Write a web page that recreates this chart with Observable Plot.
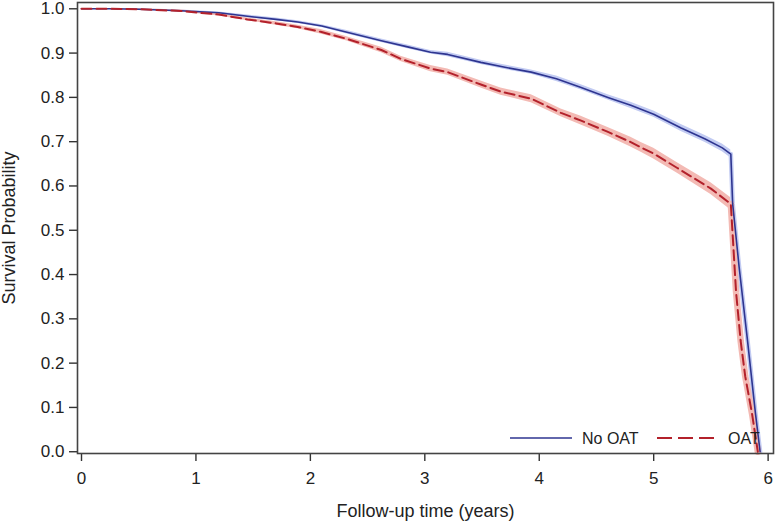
<!DOCTYPE html>
<html>
<head>
<meta charset="utf-8">
<script src="https://cdn.jsdelivr.net/npm/d3@7"></script>
<script src="https://cdn.jsdelivr.net/npm/@observablehq/plot@0.6"></script>
<style>
  html, body { margin: 0; padding: 0; background: #fff; }
  #wrap { position: relative; width: 776px; height: 521px; font-family: "Liberation Sans", Arial, sans-serif; }
  #legend { position: absolute; left: 0; top: 0; pointer-events: none; }
  g[aria-label="x-axis tick label"], g[aria-label="y-axis tick label"] { font-size: 17px !important; fill: #222; }
  g[aria-label="x-axis label"], g[aria-label="y-axis label"] { font-size: 18px !important; fill: #222; }
  g[aria-label="x-axis tick"], g[aria-label="y-axis tick"] { stroke: #333; stroke-width: 1.4px; }
</style>
</head>
<body>
<div id="wrap"></div>
<script>
// ---- Data ----
const seriesNames = ["No OAT", "OAT"];

const timeNoOAT = [0, 0.25, 0.5, 0.87, 1.2, 1.45, 1.7, 1.89, 2.1, 2.32, 2.62, 2.85, 3.05, 3.2, 3.49, 3.7, 3.93, 4.15, 4.36, 4.6, 4.8, 5.0, 5.24, 5.45, 5.6, 5.674, 5.69, 5.747, 5.82, 5.89, 5.93];
const survNoOAT = [1.0, 1.0, 0.999, 0.9955, 0.991, 0.983, 0.976, 0.970, 0.961, 0.947, 0.928, 0.914, 0.902, 0.897, 0.879, 0.868, 0.857, 0.842, 0.823, 0.800, 0.782, 0.762, 0.731, 0.706, 0.686, 0.672, 0.56, 0.416, 0.251, 0.085, 0.0];
const ciNoOAT   = [0, 0, 0.001, 0.002, 0.002, 0.003, 0.003, 0.003, 0.003, 0.004, 0.004, 0.004, 0.004, 0.005, 0.005, 0.005, 0.005, 0.006, 0.006, 0.006, 0.007, 0.007, 0.008, 0.008, 0.009, 0.009, 0, 0, 0, 0, 0];

const timeOAT = [0, 0.25, 0.5, 0.87, 1.2, 1.45, 1.7, 1.89, 2.09, 2.32, 2.62, 2.79, 3.05, 3.2, 3.49, 3.664, 3.93, 4.19, 4.36, 4.6, 4.8, 4.89, 5.0, 5.21, 5.5, 5.674, 5.69, 5.72, 5.76, 5.80, 5.86, 5.91];
const survOAT = [1.0, 1.0, 0.999, 0.995, 0.987, 0.976, 0.967, 0.959, 0.948, 0.932, 0.907, 0.887, 0.865, 0.857, 0.829, 0.813, 0.797, 0.765, 0.748, 0.722, 0.699, 0.687, 0.673, 0.640, 0.594, 0.5595, 0.49, 0.36, 0.25, 0.17, 0.085, 0.0];
const ciOAT   = [0, 0, 0.001, 0.002, 0.003, 0.003, 0.004, 0.004, 0.005, 0.005, 0.006, 0.006, 0.007, 0.007, 0.008, 0.008, 0.009, 0.009, 0.010, 0.010, 0.011, 0.011, 0.012, 0.012, 0.013, 0.014, 0, 0, 0, 0, 0, 0];

const xTicks = [0, 1, 2, 3, 4, 5, 6];
const yTicks = [0, 0.1, 0.2, 0.3, 0.4, 0.5, 0.6, 0.7, 0.8, 0.9, 1.0];

const lineColors = ["#2e3590", "#b3212b"];
const bandColors = ["#c2cbf2", "#f3bab4"];

// ---- Build tables ----
function rows(t, s, c) { return t.map((x, i) => ({x, y: s[i], lo: s[i] - c[i], hi: s[i] + c[i]})); }
const noOAT = rows(timeNoOAT, survNoOAT, ciNoOAT);
const oat = rows(timeOAT, survOAT, ciOAT);
const dropNo = timeNoOAT.indexOf(5.674);
const dropOat = timeOAT.indexOf(5.674);
const bandNo = noOAT.slice(0, dropNo + 1);
const bandOat = oat.slice(0, dropOat + 1);
const tailNo = noOAT.slice(dropNo);
const tailOat = oat.slice(dropOat);

const font = "'Liberation Sans', Arial, sans-serif";

const chart = Plot.plot({
  width: 776,
  height: 521,
  marginLeft: 77,
  marginRight: 3,
  marginTop: 2,
  marginBottom: 68,
  style: {fontFamily: font, fontSize: "16px", color: "#222", background: "#fff"},
  x: {domain: [-0.035, 6.047]},
  y: {domain: [-0.004, 1.0142]},
  marks: [
    Plot.areaY(bandNo, {x: "x", y1: "lo", y2: "hi", fill: bandColors[0], curve: "linear"}),
    Plot.areaY(bandOat, {x: "x", y1: "lo", y2: "hi", fill: bandColors[1], curve: "linear"}),
    Plot.line(tailNo, {x: "x", y: "y", stroke: bandColors[0], strokeWidth: 4.5}),
    Plot.line(tailOat, {x: "x", y: "y", stroke: bandColors[1], strokeWidth: 6.5}),
    Plot.line(noOAT, {x: "x", y: "y", stroke: lineColors[0], strokeWidth: 1.6}),
    Plot.line(oat, {x: "x", y: "y", stroke: lineColors[1], strokeWidth: 2, strokeDasharray: "10,5"}),
    Plot.axisX({ticks: xTicks, tickSize: 8, tickPadding: 10, tickFormat: d3.format("d"),
      label: "Follow-up time (years)", labelAnchor: "center", labelArrow: "none", labelOffset: 63}),
    Plot.axisY({ticks: yTicks, tickSize: 8, tickPadding: 5, tickFormat: d3.format(".1f"),
      label: "Survival Probability", labelAnchor: "center", labelArrow: "none", labelOffset: 75}),
    Plot.frame({stroke: "#444", strokeWidth: 1.6})
  ]
});

const wrap = document.getElementById("wrap");
wrap.appendChild(chart);

// ---- Legend (inside plot, bottom right) ----
const ns = "http://www.w3.org/2000/svg";
const leg = document.createElementNS(ns, "svg");
leg.setAttribute("id", "legend");
leg.setAttribute("width", 776);
leg.setAttribute("height", 521);
const items = [
  {name: seriesNames[0], x0: 510, x1: 572, tx: 582, color: lineColors[0], dash: null, w: 1.6},
  {name: seriesNames[1], x0: 657, x1: 717, tx: 728, color: lineColors[1], dash: "15,6", w: 2}
];
for (const it of items) {
  const l = document.createElementNS(ns, "line");
  l.setAttribute("x1", it.x0); l.setAttribute("x2", it.x1);
  l.setAttribute("y1", 438); l.setAttribute("y2", 438);
  l.setAttribute("stroke", it.color); l.setAttribute("stroke-width", it.w);
  if (it.dash) l.setAttribute("stroke-dasharray", it.dash);
  leg.appendChild(l);
  const t = document.createElementNS(ns, "text");
  t.setAttribute("x", it.tx); t.setAttribute("y", 444);
  t.setAttribute("font-family", font); t.setAttribute("font-size", "16px"); t.setAttribute("fill", "#222");
  t.textContent = it.name;
  leg.appendChild(t);
}
wrap.appendChild(leg);
</script>
</body>
</html>
